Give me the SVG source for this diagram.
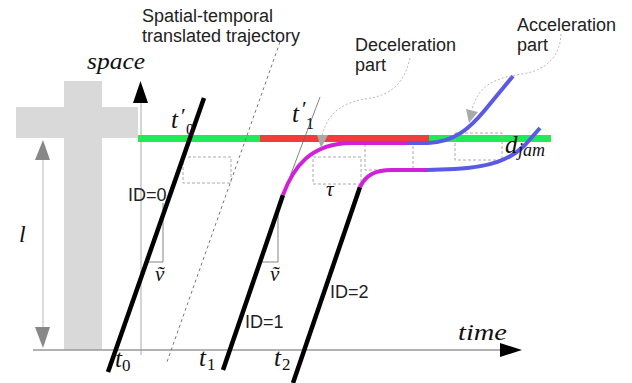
<svg xmlns="http://www.w3.org/2000/svg" width="632" height="383" viewBox="0 0 632 383">
<style>
.sans{font-family:"Liberation Sans",Arial,sans-serif;font-size:18px;fill:#222}
.math{font-family:"Liberation Serif","DejaVu Serif",serif;font-style:italic;fill:#111}
.rm{font-style:normal}
.dbox{fill:none;stroke:#aaa;stroke-width:1;stroke-dasharray:3 2}
.veh{fill:none;stroke:#000;stroke-width:4.5;stroke-linecap:butt}
.mag{fill:none;stroke:#d020d8;stroke-width:4}
.blu{fill:none;stroke:#5a5ae4;stroke-width:4}
.dot{fill:none;stroke:#bbb;stroke-width:1;stroke-dasharray:2 2}
.thin{fill:none;stroke:#666;stroke-width:0.8}
</style>
<rect width="632" height="383" fill="#fff"/>
<g id="intersection">
<rect x="16" y="107" width="122" height="31" fill="#d9d9d9"/>
<rect x="64" y="81" width="38" height="269" fill="#d9d9d9"/>
</g>
<g id="axes">
<line x1="141" y1="100" x2="141" y2="355" stroke="#aaa" stroke-width="1"/>
<polygon points="133,103 140.5,81 148,103" fill="#000"/>
<line x1="33" y1="350" x2="502" y2="350" stroke="#999" stroke-width="1.5"/>
<polygon points="500,343 522,350 500,357" fill="#000"/>
<text class="math" x="87" y="69" font-size="24" textLength="58" lengthAdjust="spacingAndGlyphs">space</text>
<text class="math" x="458" y="340" font-size="24" textLength="49" lengthAdjust="spacingAndGlyphs">time</text>
</g>
<g id="length-l">
<line x1="43" y1="155" x2="43" y2="332" stroke="#d0d0d0" stroke-width="1.5"/>
<polygon points="35,160 43,140 50,160" fill="#888"/>
<polygon points="35,327 43,348 50,327" fill="#888"/>
<text class="math" x="19" y="242" font-size="24">l</text>
</g>
<g id="road-state">
<line x1="138" y1="138.5" x2="260" y2="138.5" stroke="#20ea55" stroke-width="7"/>
<line x1="260" y1="138.5" x2="429" y2="138.5" stroke="#f03c3c" stroke-width="7"/>
<line x1="429" y1="138.5" x2="551" y2="138.5" stroke="#20ea55" stroke-width="7"/>
</g>
<g id="gap-boxes">
<rect class="dbox" x="183" y="157" width="48" height="26"/>
<rect class="dbox" x="313" y="157" width="48" height="27"/>
<rect class="dbox" x="365" y="144" width="48" height="26"/>
<rect class="dbox" x="455" y="133" width="47" height="27"/>
</g>
<g id="translated-trajectory">
<line x1="280" y1="42" x2="167" y2="362" stroke="#777" stroke-width="1" stroke-dasharray="3 3"/>
<text class="sans" x="142" y="22">Spatial-temporal</text>
<text class="sans" x="142" y="42">translated trajectory</text>
</g>
<g id="vehicle-0">
<polyline class="thin" points="163,203 163,262 146,262" stroke="#999"/>
<line class="veh" x1="204" y1="98" x2="108" y2="372"/>
<text class="sans" x="128" y="201">ID=0</text>
<text class="math" x="155" y="281" font-size="21">ṽ</text>
<text class="math" font-size="25"><tspan x="171" y="128">t</tspan><tspan class="rm" x="181" y="123" font-size="22">′</tspan><tspan class="rm" x="186" y="135" font-size="16">0</tspan></text>
<text class="math" font-size="25"><tspan x="115" y="367">t</tspan><tspan class="rm" x="122" y="371" font-size="17">0</tspan></text>
</g>
<g id="vehicle-1">
<line class="thin" x1="320" y1="97" x2="283" y2="195"/>
<polyline class="thin" points="278,212 278,262 260,262" stroke="#999"/>
<line class="veh" x1="283" y1="195" x2="223" y2="370"/>
<path class="mag" d="M283,195 C293,168 310,143 352,143 L409,143"/>
<path class="blu" d="M408,143 L428,143 C455,142 470,128 485,110 L513,76"/>
<text class="sans" x="245" y="328">ID=1</text>
<text class="math" x="270" y="281" font-size="21">ṽ</text>
<text class="math" font-size="25"><tspan x="292" y="122">t</tspan><tspan class="rm" x="302" y="116" font-size="22">′</tspan><tspan class="rm" x="306" y="129" font-size="16">1</tspan></text>
<text class="math" font-size="25"><tspan x="199" y="366">t</tspan><tspan class="rm" x="207" y="370" font-size="17">1</tspan></text>
</g>
<g id="vehicle-2">
<line class="veh" x1="360" y1="187" x2="293" y2="383"/>
<path class="mag" d="M360,187 C366,175 375,170 392,170 L428,170"/>
<path class="blu" d="M427,170 L455,169 C490,167 510,160 525,145 L540,128"/>
<text class="sans" x="330" y="298">ID=2</text>
<text class="math" font-size="25"><tspan x="274" y="366">t</tspan><tspan class="rm" x="282" y="370" font-size="17">2</tspan></text>
<text class="math" x="326" y="196" font-size="21">τ</text>
<text class="math" font-size="25"><tspan x="505" y="153">d</tspan><tspan x="518" y="156" font-size="18">jam</tspan></text>
</g>
<g id="deceleration-note">
<text class="sans" x="355" y="51">Deceleration</text>
<text class="sans" x="355" y="71">part</text>
<path class="dot" d="M410,58 C405,80 395,95 365,99 C340,103 327,115 322,136"/>
<polygon points="317,135 328,135 321,148" fill="#aaa"/>
</g>
<g id="acceleration-note">
<text class="sans" x="517" y="31">Acceleration</text>
<text class="sans" x="517" y="51">part</text>
<path class="dot" d="M561,34 C560,55 548,70 522,74 C495,78 478,85 472,110"/>
<polygon points="466,109 478,112 469,123" fill="#aaa"/>
</g>
</svg>
